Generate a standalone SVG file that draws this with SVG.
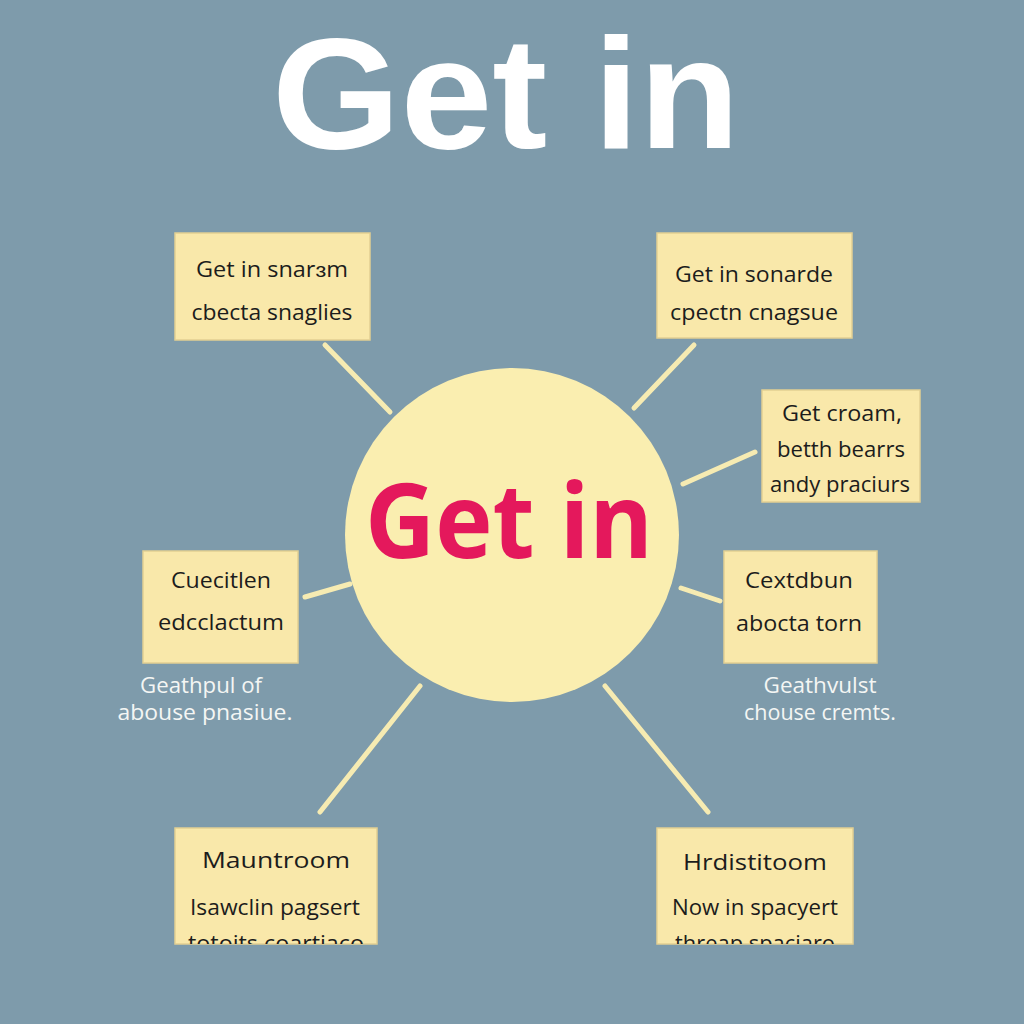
<svg xmlns="http://www.w3.org/2000/svg" width="1024" height="1024" viewBox="0 0 1024 1024">
<defs>
<style>
.box{fill:#f9e8aa;stroke:#e2cf92;stroke-width:1.5}
.bt{font-family:"Open Sans","Liberation Sans",sans-serif;font-size:21px;fill:#1c1c1c;text-anchor:middle}
.cap{font-family:"Open Sans","Liberation Sans",sans-serif;font-size:21px;fill:#f4f6f4;text-anchor:middle}
.con{stroke:#f6ebb2;stroke-width:5;stroke-linecap:round;fill:none}
</style>
<clipPath id="clipBL"><rect x="175" y="827" width="202" height="117"/></clipPath>
<clipPath id="clipBR"><rect x="657" y="827" width="196" height="117"/></clipPath>
</defs>
<rect width="1024" height="1024" fill="#7e9bab"/>
<text x="506" y="148" font-family="'Liberation Sans',Arial,sans-serif" font-weight="bold" font-size="158" fill="#ffffff" text-anchor="middle" textLength="468" lengthAdjust="spacingAndGlyphs">Get in</text>
<g id="connectors">
<line class="con" x1="325" y1="345" x2="390" y2="412"/>
<line class="con" x1="694" y1="345" x2="634" y2="408"/>
<line class="con" x1="755" y1="452" x2="683" y2="484"/>
<line class="con" x1="305" y1="597" x2="350" y2="584"/>
<line class="con" x1="681" y1="588" x2="720" y2="601"/>
<line class="con" x1="420" y1="686" x2="320" y2="812"/>
<line class="con" x1="605" y1="686" x2="708" y2="812"/>
</g>
<g id="center">
<circle cx="512" cy="535" r="167" fill="#faeeb0"/>
<text x="509" y="558" font-family="'Open Sans','Liberation Sans',sans-serif" font-weight="bold" font-size="104" fill="#e4185c" text-anchor="middle" textLength="288" lengthAdjust="spacingAndGlyphs">Get in</text>
</g>
<g id="node-tl">
<rect class="box" x="175" y="233" width="195" height="107"/>
<text class="bt" x="272" y="277" textLength="152" lengthAdjust="spacingAndGlyphs">Get in snarɜm</text>
<text class="bt" x="272" y="320" textLength="161" lengthAdjust="spacingAndGlyphs">cbecta snaglies</text>
</g>
<g id="node-tr">
<rect class="box" x="657" y="233" width="195" height="105"/>
<text class="bt" x="754" y="282" textLength="158" lengthAdjust="spacingAndGlyphs">Get in sonarde</text>
<text class="bt" x="754" y="320" textLength="168" lengthAdjust="spacingAndGlyphs">cpectn cnagsue</text>
</g>
<g id="node-r">
<rect class="box" x="762" y="390" width="158" height="112"/>
<text class="bt" x="842" y="421" textLength="120" lengthAdjust="spacingAndGlyphs">Get croam,</text>
<text class="bt" x="841" y="457" textLength="128" lengthAdjust="spacingAndGlyphs">betth bearrs</text>
<text class="bt" x="840" y="492" textLength="140" lengthAdjust="spacingAndGlyphs">andy praciurs</text>
</g>
<g id="node-l">
<rect class="box" x="143" y="551" width="155" height="112"/>
<text class="bt" x="221" y="588" textLength="100" lengthAdjust="spacingAndGlyphs">Cuecitlen</text>
<text class="bt" x="221" y="630" textLength="126" lengthAdjust="spacingAndGlyphs">edcclactum</text>
<text class="cap" x="201" y="693" textLength="122" lengthAdjust="spacingAndGlyphs">Geathpul of</text>
<text class="cap" x="205" y="720" textLength="175" lengthAdjust="spacingAndGlyphs">abouse pnasiue.</text>
</g>
<g id="node-r2">
<rect class="box" x="724" y="551" width="153" height="112"/>
<text class="bt" x="799" y="588" textLength="108" lengthAdjust="spacingAndGlyphs">Cextdbun</text>
<text class="bt" x="799" y="631" textLength="126" lengthAdjust="spacingAndGlyphs">abocta torn</text>
<text class="cap" x="820" y="693" textLength="113" lengthAdjust="spacingAndGlyphs">Geathvulst</text>
<text class="cap" x="820" y="720" textLength="152" lengthAdjust="spacingAndGlyphs">chouse cremts.</text>
</g>
<g id="node-bl">
<rect class="box" x="175" y="828" width="202" height="116"/>
<text class="bt" x="276" y="868" font-size="23" textLength="148" lengthAdjust="spacingAndGlyphs">Mauntroom</text>
<text class="bt" x="275" y="915" textLength="170" lengthAdjust="spacingAndGlyphs">Isawclin pagsert</text>
<g clip-path="url(#clipBL)"><text class="bt" x="276" y="951" textLength="176" lengthAdjust="spacingAndGlyphs">totoits coartiaco</text></g>
</g>
<g id="node-br">
<rect class="box" x="657" y="828" width="196" height="116"/>
<text class="bt" x="755" y="870" font-size="23" textLength="144" lengthAdjust="spacingAndGlyphs">Hrdistitoom</text>
<text class="bt" x="755" y="915" textLength="166" lengthAdjust="spacingAndGlyphs">Now in spacyert</text>
<g clip-path="url(#clipBR)"><text class="bt" x="755" y="951" textLength="160" lengthAdjust="spacingAndGlyphs">threap spaciaro</text></g>
</g>
</svg>
